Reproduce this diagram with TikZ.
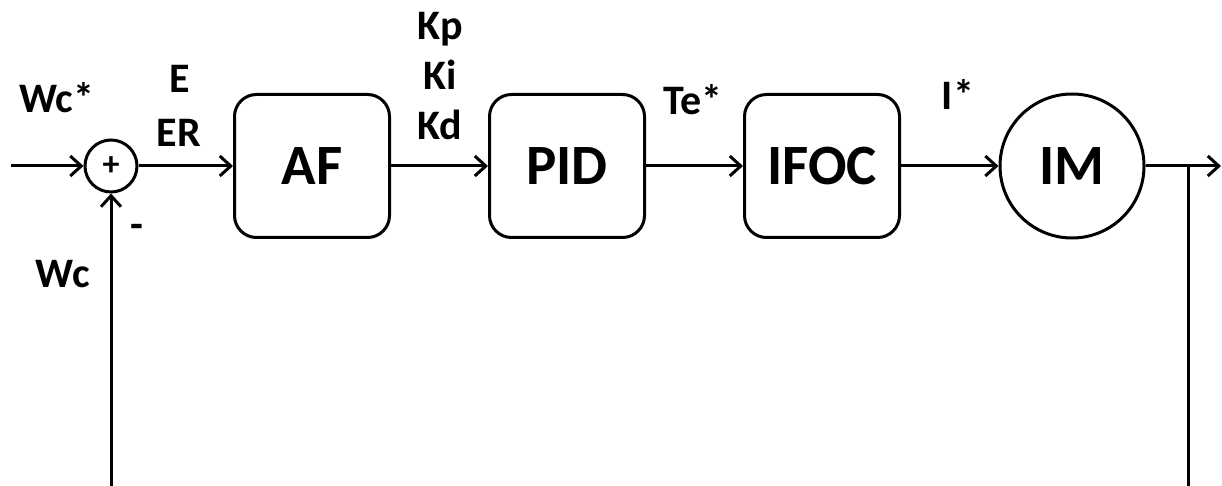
\documentclass[tikz,border=0pt]{standalone}
\usepackage{fontspec}
\setmainfont{Carlito}
\usetikzlibrary{arrows.meta}

\tikzset{
    blk/.style={draw, line width=3pt, rounded corners=22pt, minimum width=155pt,
                minimum height=143pt, inner sep=0pt,
                font=\fontsize{57}{60}\selectfont\bfseries},
    lbl/.style={anchor=base, inner sep=0pt, font=\fontsize{42}{44}\selectfont\bfseries},
    sig/.style={line width=3pt, -{Straight Barb[length=11pt,width=20pt]}}
}

\begin{document}
\begin{tikzpicture}[x=1pt,y=-1pt]

            \useasboundingbox (0,0) rectangle (1222,486);
            \clip (0,0) rectangle (1222,486);

            \path   (111,166)  node (s) [draw, circle, line width=3pt, minimum size=52pt, inner sep=0pt,
                                         font=\fontsize{34}{36}\selectfont\bfseries] {+}
                    (312,166) node (af) [blk] {AF}
                    (567,166) node (pid) [blk] {PID}
                    (822,166) node (ifoc) [blk] {IFOC}
                    (1072,166) node (im) [draw, circle, line width=3pt, minimum size=144pt, inner sep=0pt,
                                          font=\fontsize{57}{60}\selectfont\bfseries] {IM};

            % labels
            \path   (57,113) node (wref) [lbl] {Wc*}
                    (180,93) node (e) [lbl] {E}
                    (179,147) node (er) [lbl] {ER}
                    (440,40) node (kp) [lbl] {Kp}
                    (440,90) node (ki) [lbl] {Ki}
                    (440,140) node (kd) [lbl] {Kd}
                    (693,115) node (te) [lbl] {Te*}
                    (958,110) node (ist) [lbl] {I*}
                    (137,239) node (neg) [lbl] {-}
                    (63,287) node (wfb) [lbl] {Wc};

            \coordinate (in) at (11,166);
            \coordinate (out) at (1221,166);
            \coordinate (br) at (1188,166);
            \coordinate (bot) at (1188,530);

            \draw[sig] (in) -- (s);
            \draw[sig] (s) -- (af);
            \draw[sig] (af) -- (pid);
            \draw[sig] (pid) -- (ifoc);
            \draw[sig] (ifoc) -- (im);
            \draw[sig] (im) -- (out);
            \draw[sig] (br) -- (bot) -| (s);
        \end{tikzpicture}
\end{document}
